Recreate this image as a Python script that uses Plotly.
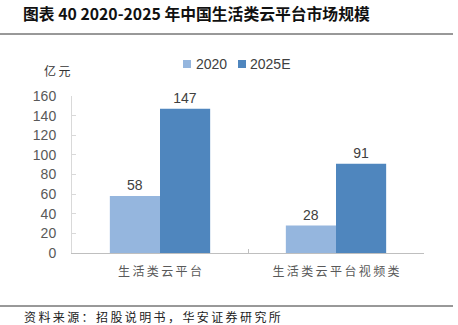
import plotly.graph_objects as go

categories = ["生活类云平台", "生活类云平台视频类"]
series_names = ["2020", "2025E"]
values_2020 = [58, 28]
values_2025 = [147, 91]
y_ticks = [0, 20, 40, 60, 80, 100, 120, 140, 160]

colors = ["#95B6DE", "#4F86BE"]

W, H = 458, 325
L, R, T, B = 72, 424, 96, 253


def px_x(x):
    return (x - L) / (R - L)


def px_y(y):
    return (B - y) / (B - T)


def spaced(s):
    return "\u2009".join(s)


fig = go.Figure()
for name, vals, c in zip(series_names, [values_2020, values_2025], colors):
    fig.add_trace(go.Bar(
        x=[spaced(c_) for c_ in categories], y=vals, name=name,
        marker=dict(color=c, line=dict(width=0)),
        text=[str(v) for v in vals], textposition="outside",
        textfont=dict(family="Liberation Sans, Arial", size=14, color="#404040"),
        cliponaxis=False, showlegend=False,
    ))

fig.update_layout(
    width=W, height=H,
    margin=dict(l=L, r=W - R, t=T, b=H - B, pad=0),
    paper_bgcolor="white", plot_bgcolor="white",
    barmode="group", bargap=0.43, bargroupgap=0,
    showlegend=False,
    xaxis=dict(showline=True, linecolor="#BFBFBF", linewidth=1, ticks="inside",
               tickson="boundaries", ticklen=4, tickcolor="#BFBFBF",
               tickfont=dict(family="Noto Sans CJK SC", size=12, color="#595959"),
               showgrid=False, zeroline=False, ticklabelstandoff=8),
    yaxis=dict(range=[0, 160], tickvals=y_ticks, showline=True, linecolor="#D9D9D9",
               linewidth=1, ticks="inside", ticklen=4, tickcolor="#D9D9D9",
               tickfont=dict(family="Liberation Sans, Arial", size=14, color="#595959"),
               showgrid=False, zeroline=False, ticklabelstandoff=12),
    font=dict(family="Noto Sans CJK SC"),
)

# Legend (drawn manually to match small square swatches)
legend_items = [(183, 194, series_names[0], colors[0]), (238, 248, series_names[1], colors[1])]
for sx, tx, name, c in legend_items:
    fig.add_shape(type="rect", xref="paper", yref="paper",
                  x0=px_x(sx), x1=px_x(sx + 8), y0=px_y(68), y1=px_y(60),
                  fillcolor=c, line=dict(width=0))
    fig.add_annotation(text=name, xref="paper", yref="paper", x=px_x(tx), y=px_y(64),
                       xanchor="left", yanchor="middle", showarrow=False,
                       font=dict(family="Liberation Sans, Arial", size=14, color="#404040"))

# Title
fig.add_annotation(text="<b>图表 40 2020-2025 年中国生活类云平台市场规模</b>",
                   xref="paper", yref="paper", x=px_x(21), y=px_y(14),
                   xanchor="left", yanchor="middle", showarrow=False,
                   font=dict(family="Noto Sans CJK SC", size=15.8, color="#111111"))
fig.add_shape(type="line", xref="paper", yref="paper", x0=px_x(0), x1=px_x(453),
              y0=px_y(34), y1=px_y(34), line=dict(color="#333333", width=1))
# Unit
fig.add_annotation(text=spaced("亿元"), xref="paper", yref="paper", x=px_x(57), y=px_y(70),
                   xanchor="center", yanchor="middle", showarrow=False,
                   font=dict(family="Noto Sans CJK SC", size=12, color="#333333"))
# Footer
fig.add_shape(type="line", xref="paper", yref="paper", x0=px_x(0), x1=px_x(453),
              y0=px_y(306), y1=px_y(306), line=dict(color="#333333", width=1))
fig.add_annotation(text=spaced("资料来源：招股说明书，华安证券研究所"), xref="paper", yref="paper",
                   x=px_x(22), y=px_y(316), xanchor="left", yanchor="middle", showarrow=False,
                   font=dict(family="Noto Sans CJK SC", size=12, color="#222222"))

fig.write_html("out.html")
